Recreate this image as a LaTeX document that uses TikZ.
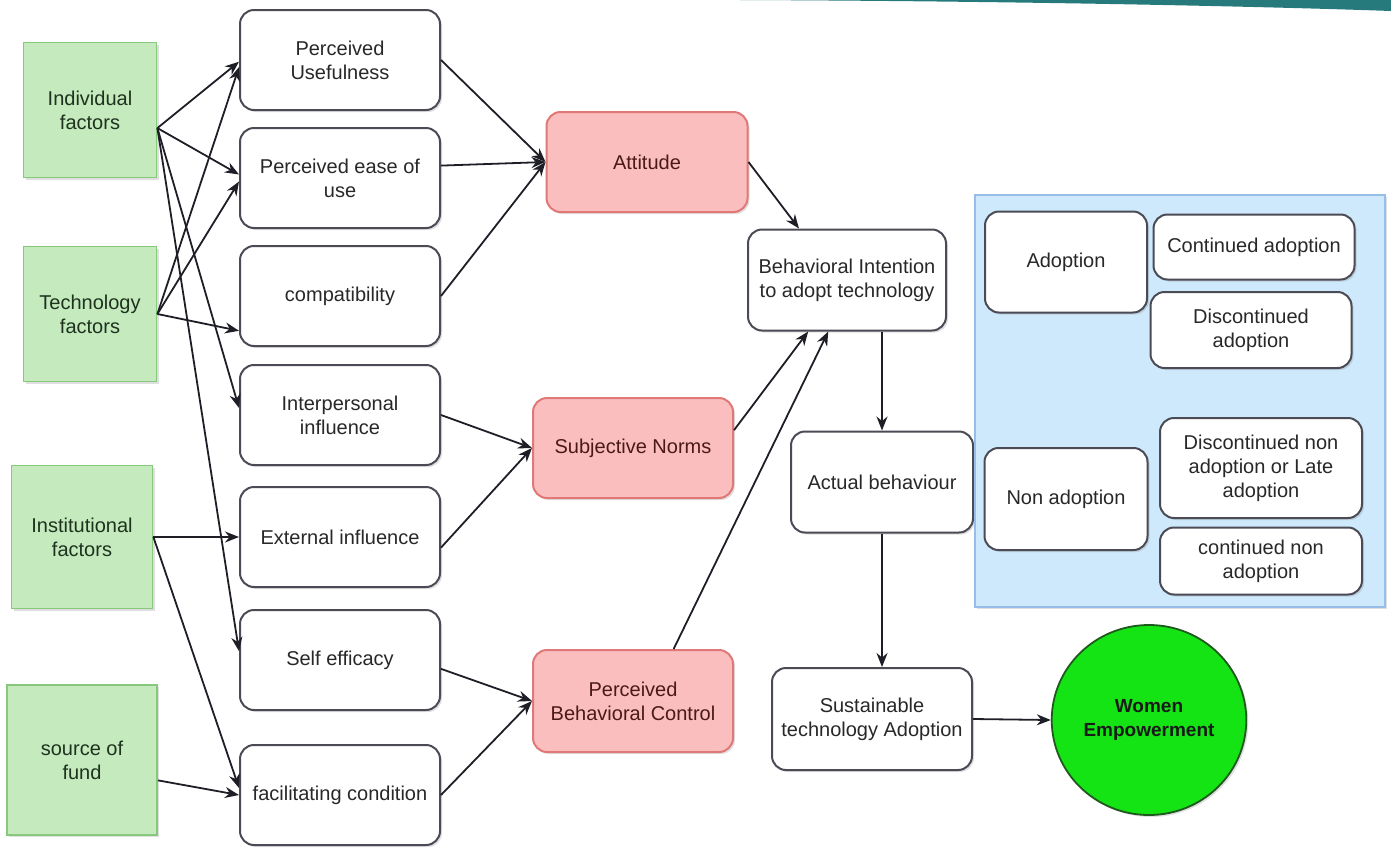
\documentclass[tikz,border=0pt]{standalone}
\usepackage{fontspec}
\setmainfont{Liberation Sans}
\usetikzlibrary{arrows.meta,shapes.geometric,shadows}

\definecolor{factfill}{RGB}{196,234,190}
\definecolor{factline}{RGB}{135,200,125}
\definecolor{facttext}{RGB}{30,50,30}
\definecolor{pinkfill}{RGB}{250,190,190}
\definecolor{pinkline}{RGB}{225,120,120}
\definecolor{pinktext}{RGB}{75,25,25}
\definecolor{boxline}{RGB}{75,75,85}
\definecolor{boxtext}{RGB}{40,40,40}
\definecolor{panelfill}{RGB}{206,233,252}
\definecolor{panelline}{RGB}{150,190,232}
\definecolor{wefill}{RGB}{20,228,20}
\definecolor{weline}{RGB}{30,90,30}
\definecolor{tealband}{RGB}{38,122,124}
\definecolor{arrowcol}{RGB}{30,30,38}

\tikzset{
  shade box/.style={drop shadow={shadow xshift=2pt,shadow yshift=-2pt,opacity=0.25}},
  factor/.style={shade box,draw=factline,fill=factfill,line width=1.8pt,text=facttext,
    align=center,font=\fontsize{20}{24}\selectfont},
  construct/.style={shade box,draw=boxline,fill=white,rounded corners=14pt,line width=2pt,
    text=boxtext,align=center,minimum width=200pt,minimum height=100pt,inner sep=2pt,
    font=\fontsize{20}{24}\selectfont},
  latent/.style={construct,draw=pinkline,fill=pinkfill,text=pinktext},
  link/.style={draw=arrowcol,line width=1.8pt,-{Stealth[length=14pt,width=11pt]}},
}

\begin{document}
\begin{tikzpicture}[x=1pt,y=-1pt]
\useasboundingbox (0,0) rectangle (1391,847);

% slide band
\fill[tealband] (740,0) .. controls (1000,1) and (1250,6) .. (1391,11) -- (1391,0) -- cycle;

% Factors
\node[factor,minimum width=133pt,minimum height=135pt] (ind) at (90,110) {Individual\\factors};
\node[factor,minimum width=133pt,minimum height=135pt] (tech) at (90,314) {Technology\\factors};
\node[factor,minimum width=141pt,minimum height=143pt] (inst) at (82,537) {Institutional\\factors};
\node[factor,minimum width=150pt,minimum height=150pt] (fund) at (82,760) {source of\\fund};

% Determinants
\node[construct] (pu) at (340,60) {Perceived\\Usefulness};
\node[construct] (peu) at (340,178) {Perceived ease of\\use};
\node[construct] (comp) at (340,296) {compatibility};
\node[construct] (ip) at (340,415) {Interpersonal\\influence};
\node[construct] (ext) at (340,537) {External influence};
\node[construct] (se) at (340,660) {Self efficacy};
\node[construct] (fac) at (340,795) {facilitating condition};

% TPB constructs
\node[latent,minimum width=201pt] (att) at (647,162) {Attitude};
\node[latent] (sn) at (633,448) {Subjective Norms};
\node[latent,minimum height=102pt] (pbc) at (633,701) {Perceived\\Behavioral Control};

% Intention and behaviour
\node[construct,minimum width=198pt,minimum height=101pt] (bi) at (847,280) {Behavioral Intention\\to adopt technology};
\node[construct,minimum width=182pt,minimum height=101pt] (ab) at (882,482) {Actual behaviour};
\node[construct,minimum height=102pt] (sta) at (872,719) {Sustainable\\technology Adoption};
\node[ellipse,shade box,draw=weline,fill=wefill,line width=1.8pt,minimum width=188pt,minimum height=190pt,
  align=center,font=\fontsize{19}{24}\selectfont\bfseries,text=black!90] (we) at (1149,720) {Women\\Empowerment};

% Adoption outcomes
\node[shade box,draw=panelline,fill=panelfill,line width=1.8pt,minimum width=410pt,minimum height=412pt] (panel) at (1180,401) {};
\node[construct,minimum width=162pt,minimum height=101pt] (adopt) at (1066,262) {Adoption};
\node[construct,minimum width=201pt,minimum height=65pt] (cont) at (1254,247) {Continued adoption};
\node[construct,minimum width=201pt,minimum height=76pt] (disc) at (1251,330) {Discontinued\\adoption};
\node[construct,minimum width=163pt,minimum height=102pt] (nonad) at (1066,499) {Non adoption};
\node[construct,minimum width=202pt,minimum height=100pt] (late) at (1261,468) {Discontinued non\\adoption or Late\\adoption};
\node[construct,minimum width=202pt,minimum height=67pt] (contnon) at (1261,561) {continued non\\adoption};

% Factors to determinants
\draw[link] (ind.-15) -- (pu.181);
\draw[link] (ind.-15) -- (peu.178);
\draw[link] (ind.-15) -- (ip.176);
\draw[link] (ind.-15) -- (se.175);
\draw[link] (tech.east) -- (pu.184);
\draw[link] (tech.east) -- (peu.182);
\draw[link] (tech.east) -- (comp.199);
\draw[link] (inst.east) -- (ext.west);
\draw[link] (inst.east) -- (fac.176);
\draw[link] (fund.-15) -- (fac.west);

% Determinants to constructs
\draw[link] (pu.east) -- (att.west);
\draw[link] (peu.7) -- (att.west);
\draw[link] (comp.east) -- (att.west);
\draw[link] (ip.east) -- (sn.west);
\draw[link] (ext.-6) -- (sn.west);
\draw[link] (se.-5) -- (pbc.west);
\draw[link] (fac.east) -- (pbc.west);

% Constructs to intention
\draw[link] (att.east) -- (bi.133);
\draw[link] (sn.10) -- (bi.233);
\draw[link] (pbc.52) -- (bi.250);

% Intention to empowerment
\draw[link] (bi.south -| ab.north) -- (ab.north);
\draw[link] (ab.south) -- (ab.south |- sta.north);
\draw[link] (sta.east) -- (we.west);
\end{tikzpicture}
\end{document}
